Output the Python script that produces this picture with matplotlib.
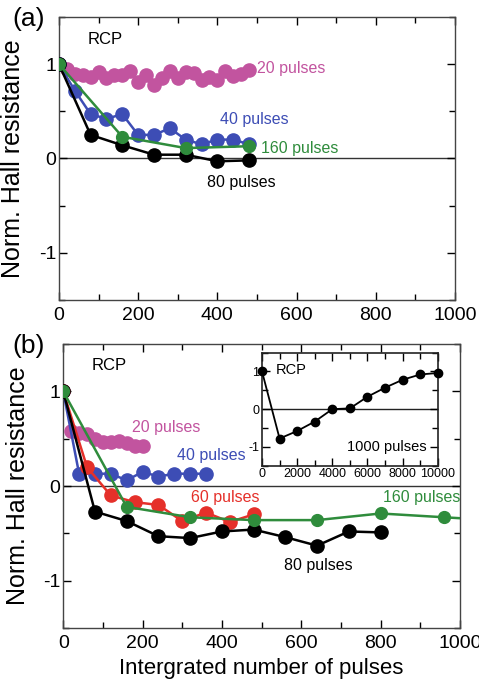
import numpy as np
import matplotlib
matplotlib.use("Agg")
import matplotlib.pyplot as plt
from matplotlib.ticker import MultipleLocator

plt.rcParams['font.family'] = ['Liberation Sans', 'DejaVu Sans']
plt.rcParams['axes.unicode_minus'] = False

# --- colours ---
MAG = '#c2549f'
BLUE = '#3d4db5'
GREEN = '#2f8c3c'
RED = '#e5302a'
BLK = '#000000'

# ---------------- panel (a) data ----------------
a_x20 = list(range(0, 500, 20))
a_y20 = [1.0, 0.95, 0.90, 0.88, 0.86, 0.92, 0.85, 0.88, 0.89, 0.93, 0.81, 0.88, 0.78,
         0.85, 0.93, 0.85, 0.92, 0.91, 0.83, 0.86, 0.83, 0.93, 0.87, 0.90, 0.94]
a_x40 = list(range(0, 520, 40))
a_y40 = [1.0, 0.72, 0.47, 0.42, 0.47, 0.25, 0.25, 0.32, 0.20, 0.15, 0.20, 0.20, 0.15]
a_x80 = [0, 80, 160, 240, 320, 400, 480]
a_y80 = [1.0, 0.25, 0.14, 0.04, 0.04, -0.03, -0.02]
a_x160 = [0, 160, 320, 480]
a_y160 = [1.0, 0.23, 0.11, 0.13]

# ---------------- panel (b) data ----------------
b_x20 = list(range(20, 220, 20))
b_y20 = [0.58, 0.56, 0.55, 0.50, 0.47, 0.47, 0.48, 0.45, 0.42, 0.42]
b_x40 = list(range(0, 400, 40))
b_y40 = [1.0, 0.13, 0.13, 0.13, 0.06, 0.15, 0.10, 0.13, 0.13, 0.13]
b_x60 = list(range(0, 540, 60))
b_y60 = [1.0, 0.20, -0.10, -0.17, -0.20, -0.37, -0.28, -0.38, -0.30]
b_x80 = list(range(0, 880, 80))
b_y80 = [1.0, -0.27, -0.37, -0.53, -0.55, -0.48, -0.46, -0.54, -0.63, -0.48, -0.49]
b_x160 = [0, 160, 320, 480, 640, 800, 960, 1120]
b_y160 = [1.0, -0.22, -0.33, -0.36, -0.36, -0.29, -0.33, -0.37]

# inset (1000 pulses)
in_x = list(range(0, 11000, 1000))
in_y = [1.0, -0.78, -0.58, -0.33, 0.0, 0.02, 0.33, 0.57, 0.78, 0.92, 0.96]

fig = plt.figure(figsize=(4.79, 6.81), dpi=100)


def style_main(ax):
    ax.set_xlim(0, 1000)
    ax.set_ylim(-1.5, 1.5)
    ax.xaxis.set_major_locator(MultipleLocator(200))
    ax.xaxis.set_minor_locator(MultipleLocator(100))
    ax.yaxis.set_major_locator(MultipleLocator(1))
    ax.yaxis.set_minor_locator(MultipleLocator(0.5))
    ax.tick_params(which='both', direction='in', top=True, right=True, labelsize=14)
    ax.tick_params(which='major', length=6, width=1)
    ax.tick_params(which='minor', length=4, width=1)
    ax.tick_params(axis='y', pad=2)
    ax.tick_params(axis='x', pad=5)
    ax.axhline(0, color='#333333', lw=1, zorder=1)
    for s in ax.spines.values():
        s.set_color('#444444')
        s.set_linewidth(1)
    ax.set_ylabel('Norm. Hall resistance', fontsize=18)
    ax.yaxis.set_label_coords(-0.085, 0.5)


def curve(ax, x, y, c, ms=9.5, lw=1.8, z=3):
    ax.plot(x, y, '-o', color=c, ms=ms, lw=lw, mec=c, zorder=z, clip_on=True)


# ---------------- (a) ----------------
ax1 = fig.add_axes([0.123, 0.5595, 0.827, 0.4156])
style_main(ax1)
curve(ax1, a_x20, a_y20, MAG)
curve(ax1, a_x40, a_y40, BLUE)
curve(ax1, a_x80, a_y80, BLK)
curve(ax1, a_x160, a_y160, GREEN, ms=8.5, z=4)
ax1.text(73, 1.26, 'RCP', fontsize=12, va='center')
ax1.text(500, 0.95, '20 pulses', color=MAG, fontsize=11.5, va='center')
ax1.text(407, 0.41, '40 pulses', color=BLUE, fontsize=11.5, va='center')
ax1.text(510, 0.11, '160 pulses', color=GREEN, fontsize=11.5, va='center')
ax1.text(373, -0.25, '80 pulses', color=BLK, fontsize=11.5, va='center')
fig.text(0.025, 0.972, '(a)', fontsize=19, va='center')

# ---------------- (b) ----------------
ax2 = fig.add_axes([0.132, 0.0778, 0.828, 0.417])
style_main(ax2)
curve(ax2, b_x20, b_y20, MAG)
curve(ax2, b_x40, b_y40, BLUE)
curve(ax2, b_x60, b_y60, RED)
curve(ax2, b_x80, b_y80, BLK)
curve(ax2, b_x160, b_y160, GREEN, ms=8.5, z=4)
ax2.set_xlabel('Intergrated number of pulses', fontsize=16, labelpad=4)
ax2.text(72, 1.27, 'RCP', fontsize=12, va='center')
ax2.text(173, 0.62, '20 pulses', color=MAG, fontsize=11.5, va='center')
ax2.text(286, 0.32, '40 pulses', color=BLUE, fontsize=11.5, va='center')
ax2.text(322, -0.12, '60 pulses', color=RED, fontsize=11.5, va='center')
ax2.text(806, -0.12, '160 pulses', color=GREEN, fontsize=11.5, va='center')
ax2.text(556, -0.84, '80 pulses', color=BLK, fontsize=11.5, va='center')
fig.text(0.025, 0.492, '(b)', fontsize=19, va='center')

# ---------------- inset ----------------
axi = fig.add_axes([0.547, 0.3162, 0.367, 0.166])
axi.set_xlim(0, 10000)
axi.set_ylim(-1.5, 1.5)
axi.xaxis.set_major_locator(MultipleLocator(2000))
axi.xaxis.set_minor_locator(MultipleLocator(1000))
axi.yaxis.set_major_locator(MultipleLocator(1))
axi.yaxis.set_minor_locator(MultipleLocator(0.5))
axi.tick_params(which='both', direction='in', top=True, right=True, labelsize=9, pad=2)
axi.tick_params(which='major', length=6, width=1)
axi.tick_params(which='minor', length=4, width=1)
axi.axhline(0, color='#222222', lw=1, zorder=1)
for s in axi.spines.values():
    s.set_color('#222222')
    s.set_linewidth(1.2)
axi.plot(in_x, in_y, '-o', color=BLK, ms=6, lw=1.3, zorder=3, clip_on=False)
axi.text(800, 1.03, 'RCP', fontsize=10.5, va='center')
axi.text(9370, -1.0, '1000 pulses', fontsize=10.5, va='center', ha='right')

fig.savefig('out.png', dpi=100)
